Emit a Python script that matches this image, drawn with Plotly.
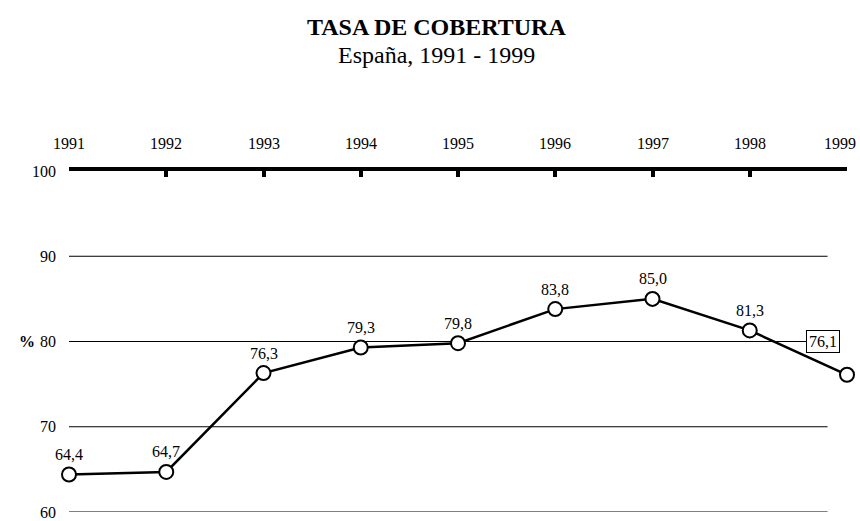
import plotly.graph_objects as go

years = [1991, 1992, 1993, 1994, 1995, 1996, 1997, 1998, 1999]
tasa = [64.4, 64.7, 76.3, 79.3, 79.8, 83.8, 85.0, 81.3, 76.1]
labels = [f"{v:.1f}".replace('.', ',') for v in tasa]
grid_levels = [60, 70, 80, 90]
y_ticks = [60, 70, 80, 90, 100]

FONT = "Liberation Serif, Times New Roman, serif"

fig = go.Figure()

# gridlines stop a bit before the last year, like the original
for g in grid_levels:
    fig.add_shape(type="line", xref="x", yref="y", x0=1991, x1=1998.8, y0=g, y1=g,
                  line=dict(color="black", width=1), layer="below")

fig.add_trace(go.Scatter(
    x=years, y=tasa, mode="lines+markers",
    line=dict(color="black", width=2.5),
    marker=dict(size=14, color="white", line=dict(color="black", width=2)),
    cliponaxis=False, hoverinfo="skip", showlegend=False,
))

for i, (x, y, t) in enumerate(zip(years, tasa, labels)):
    last = i == len(years) - 1
    if last:
        # last value is boxed, up and to the left of its point
        fig.add_annotation(x=x, y=y, text=t, showarrow=False, xshift=-24, yshift=33, yanchor="middle",
                           bordercolor="black", borderwidth=1, bgcolor="white", borderpad=2,
                           font=dict(family=FONT, size=16, color="black"))
    else:
        fig.add_annotation(x=x, y=y, text=t, showarrow=False, yshift=20, yanchor="middle",
                           font=dict(family=FONT, size=16, color="black"))
    # year labels above the top axis (the last one is pulled in so it fits)
    fig.add_annotation(x=x, xref="x", y=1, yref="paper", text=str(x), showarrow=False,
                       yanchor="middle", yshift=28, xshift=-7 if last else 0,
                       font=dict(family=FONT, size=16, color="black"))

fig.add_annotation(xref="paper", yref="paper", x=0.473, y=1, yshift=144, yanchor="middle",
                   text="<b>TASA DE COBERTURA</b>",
                   showarrow=False, font=dict(family=FONT, size=24, color="black"))
fig.add_annotation(xref="paper", yref="paper", x=0.473, y=1, yshift=116, yanchor="middle",
                   text="España, 1991 - 1999",
                   showarrow=False, font=dict(family=FONT, size=24, color="black"))
fig.add_annotation(xref="paper", yref="y", x=0, y=80, xshift=-52, yanchor="middle", text="<b>%</b>",
                   showarrow=False, font=dict(family=FONT, size=16, color="black"))

fig.update_layout(
    width=860, height=521,
    margin=dict(l=69, r=13, t=171, b=9),
    paper_bgcolor="white", plot_bgcolor="white",
    font=dict(family=FONT, size=16, color="black"),
    xaxis=dict(range=[1991, 1999], side="top", tickmode="array", tickvals=years,
               showticklabels=False, automargin=False,
               showgrid=False, zeroline=False, showline=True, linecolor="black", linewidth=4,
               ticks="inside", ticklen=6, tickwidth=4, tickcolor="black"),
    yaxis=dict(range=[60, 100], tickvals=y_ticks, showgrid=False, automargin=False,
               zeroline=False, showline=False, ticks="", ticklabelstandoff=12),
)

fig.write_html("out.html", config={"displayModeBar": False},
               post_script="document.body.style.margin='0';")
